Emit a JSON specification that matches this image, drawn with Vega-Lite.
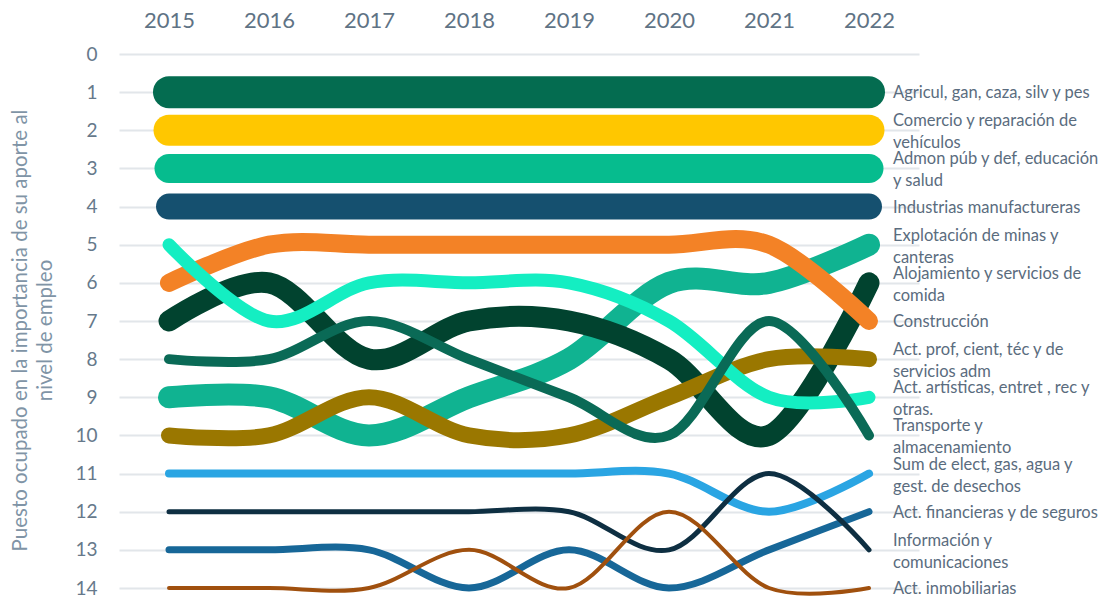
{
  "$schema": "https://vega.github.io/schema/vega-lite/v6.json",
  "width": 800,
  "height": 534,
  "autosize": {"type": "none"},
  "padding": {"left": 119, "top": 54, "right": 182, "bottom": 9},
  "background": "white",
  "config": {"view": {"stroke": null}, "font": "Lato"},
  "datasets": {
    "puestos": [
      {"anio": 2015, "sector": "Agricul, gan, caza, silv y pes", "puesto": 1},
      {"anio": 2016, "sector": "Agricul, gan, caza, silv y pes", "puesto": 1},
      {"anio": 2017, "sector": "Agricul, gan, caza, silv y pes", "puesto": 1},
      {"anio": 2018, "sector": "Agricul, gan, caza, silv y pes", "puesto": 1},
      {"anio": 2019, "sector": "Agricul, gan, caza, silv y pes", "puesto": 1},
      {"anio": 2020, "sector": "Agricul, gan, caza, silv y pes", "puesto": 1},
      {"anio": 2021, "sector": "Agricul, gan, caza, silv y pes", "puesto": 1},
      {"anio": 2022, "sector": "Agricul, gan, caza, silv y pes", "puesto": 1},
      {"anio": 2015, "sector": "Comercio y reparación de\nvehículos", "puesto": 2},
      {"anio": 2016, "sector": "Comercio y reparación de\nvehículos", "puesto": 2},
      {"anio": 2017, "sector": "Comercio y reparación de\nvehículos", "puesto": 2},
      {"anio": 2018, "sector": "Comercio y reparación de\nvehículos", "puesto": 2},
      {"anio": 2019, "sector": "Comercio y reparación de\nvehículos", "puesto": 2},
      {"anio": 2020, "sector": "Comercio y reparación de\nvehículos", "puesto": 2},
      {"anio": 2021, "sector": "Comercio y reparación de\nvehículos", "puesto": 2},
      {"anio": 2022, "sector": "Comercio y reparación de\nvehículos", "puesto": 2},
      {"anio": 2015, "sector": "Admon púb y def, educación\ny salud", "puesto": 3},
      {"anio": 2016, "sector": "Admon púb y def, educación\ny salud", "puesto": 3},
      {"anio": 2017, "sector": "Admon púb y def, educación\ny salud", "puesto": 3},
      {"anio": 2018, "sector": "Admon púb y def, educación\ny salud", "puesto": 3},
      {"anio": 2019, "sector": "Admon púb y def, educación\ny salud", "puesto": 3},
      {"anio": 2020, "sector": "Admon púb y def, educación\ny salud", "puesto": 3},
      {"anio": 2021, "sector": "Admon púb y def, educación\ny salud", "puesto": 3},
      {"anio": 2022, "sector": "Admon púb y def, educación\ny salud", "puesto": 3},
      {"anio": 2015, "sector": "Industrias manufactureras", "puesto": 4},
      {"anio": 2016, "sector": "Industrias manufactureras", "puesto": 4},
      {"anio": 2017, "sector": "Industrias manufactureras", "puesto": 4},
      {"anio": 2018, "sector": "Industrias manufactureras", "puesto": 4},
      {"anio": 2019, "sector": "Industrias manufactureras", "puesto": 4},
      {"anio": 2020, "sector": "Industrias manufactureras", "puesto": 4},
      {"anio": 2021, "sector": "Industrias manufactureras", "puesto": 4},
      {"anio": 2022, "sector": "Industrias manufactureras", "puesto": 4},
      {"anio": 2015, "sector": "Explotación de minas y\ncanteras", "puesto": 9},
      {"anio": 2016, "sector": "Explotación de minas y\ncanteras", "puesto": 9},
      {"anio": 2017, "sector": "Explotación de minas y\ncanteras", "puesto": 10},
      {"anio": 2018, "sector": "Explotación de minas y\ncanteras", "puesto": 9},
      {"anio": 2019, "sector": "Explotación de minas y\ncanteras", "puesto": 8},
      {"anio": 2020, "sector": "Explotación de minas y\ncanteras", "puesto": 6},
      {"anio": 2021, "sector": "Explotación de minas y\ncanteras", "puesto": 6},
      {"anio": 2022, "sector": "Explotación de minas y\ncanteras", "puesto": 5},
      {"anio": 2015, "sector": "Alojamiento y servicios de\ncomida", "puesto": 7},
      {"anio": 2016, "sector": "Alojamiento y servicios de\ncomida", "puesto": 6},
      {"anio": 2017, "sector": "Alojamiento y servicios de\ncomida", "puesto": 8},
      {"anio": 2018, "sector": "Alojamiento y servicios de\ncomida", "puesto": 7},
      {"anio": 2019, "sector": "Alojamiento y servicios de\ncomida", "puesto": 7},
      {"anio": 2020, "sector": "Alojamiento y servicios de\ncomida", "puesto": 8},
      {"anio": 2021, "sector": "Alojamiento y servicios de\ncomida", "puesto": 10},
      {"anio": 2022, "sector": "Alojamiento y servicios de\ncomida", "puesto": 6},
      {"anio": 2015, "sector": "Construcción", "puesto": 6},
      {"anio": 2016, "sector": "Construcción", "puesto": 5},
      {"anio": 2017, "sector": "Construcción", "puesto": 5},
      {"anio": 2018, "sector": "Construcción", "puesto": 5},
      {"anio": 2019, "sector": "Construcción", "puesto": 5},
      {"anio": 2020, "sector": "Construcción", "puesto": 5},
      {"anio": 2021, "sector": "Construcción", "puesto": 5},
      {"anio": 2022, "sector": "Construcción", "puesto": 7},
      {"anio": 2015, "sector": "Act. prof, cient, téc y de\nservicios adm", "puesto": 10},
      {"anio": 2016, "sector": "Act. prof, cient, téc y de\nservicios adm", "puesto": 10},
      {"anio": 2017, "sector": "Act. prof, cient, téc y de\nservicios adm", "puesto": 9},
      {"anio": 2018, "sector": "Act. prof, cient, téc y de\nservicios adm", "puesto": 10},
      {"anio": 2019, "sector": "Act. prof, cient, téc y de\nservicios adm", "puesto": 10},
      {"anio": 2020, "sector": "Act. prof, cient, téc y de\nservicios adm", "puesto": 9},
      {"anio": 2021, "sector": "Act. prof, cient, téc y de\nservicios adm", "puesto": 8},
      {"anio": 2022, "sector": "Act. prof, cient, téc y de\nservicios adm", "puesto": 8},
      {"anio": 2015, "sector": "Act. artísticas, entret , rec y\notras.", "puesto": 5},
      {"anio": 2016, "sector": "Act. artísticas, entret , rec y\notras.", "puesto": 7},
      {"anio": 2017, "sector": "Act. artísticas, entret , rec y\notras.", "puesto": 6},
      {"anio": 2018, "sector": "Act. artísticas, entret , rec y\notras.", "puesto": 6},
      {"anio": 2019, "sector": "Act. artísticas, entret , rec y\notras.", "puesto": 6},
      {"anio": 2020, "sector": "Act. artísticas, entret , rec y\notras.", "puesto": 7},
      {"anio": 2021, "sector": "Act. artísticas, entret , rec y\notras.", "puesto": 9},
      {"anio": 2022, "sector": "Act. artísticas, entret , rec y\notras.", "puesto": 9},
      {"anio": 2015, "sector": "Transporte y\nalmacenamiento", "puesto": 8},
      {"anio": 2016, "sector": "Transporte y\nalmacenamiento", "puesto": 8},
      {"anio": 2017, "sector": "Transporte y\nalmacenamiento", "puesto": 7},
      {"anio": 2018, "sector": "Transporte y\nalmacenamiento", "puesto": 8},
      {"anio": 2019, "sector": "Transporte y\nalmacenamiento", "puesto": 9},
      {"anio": 2020, "sector": "Transporte y\nalmacenamiento", "puesto": 10},
      {"anio": 2021, "sector": "Transporte y\nalmacenamiento", "puesto": 7},
      {"anio": 2022, "sector": "Transporte y\nalmacenamiento", "puesto": 10},
      {"anio": 2015, "sector": "Sum de elect, gas, agua y\ngest. de desechos", "puesto": 11},
      {"anio": 2016, "sector": "Sum de elect, gas, agua y\ngest. de desechos", "puesto": 11},
      {"anio": 2017, "sector": "Sum de elect, gas, agua y\ngest. de desechos", "puesto": 11},
      {"anio": 2018, "sector": "Sum de elect, gas, agua y\ngest. de desechos", "puesto": 11},
      {"anio": 2019, "sector": "Sum de elect, gas, agua y\ngest. de desechos", "puesto": 11},
      {"anio": 2020, "sector": "Sum de elect, gas, agua y\ngest. de desechos", "puesto": 11},
      {"anio": 2021, "sector": "Sum de elect, gas, agua y\ngest. de desechos", "puesto": 12},
      {"anio": 2022, "sector": "Sum de elect, gas, agua y\ngest. de desechos", "puesto": 11},
      {"anio": 2015, "sector": "Act. financieras y de seguros", "puesto": 13},
      {"anio": 2016, "sector": "Act. financieras y de seguros", "puesto": 13},
      {"anio": 2017, "sector": "Act. financieras y de seguros", "puesto": 13},
      {"anio": 2018, "sector": "Act. financieras y de seguros", "puesto": 14},
      {"anio": 2019, "sector": "Act. financieras y de seguros", "puesto": 13},
      {"anio": 2020, "sector": "Act. financieras y de seguros", "puesto": 14},
      {"anio": 2021, "sector": "Act. financieras y de seguros", "puesto": 13},
      {"anio": 2022, "sector": "Act. financieras y de seguros", "puesto": 12},
      {"anio": 2015, "sector": "Información y\ncomunicaciones", "puesto": 12},
      {"anio": 2016, "sector": "Información y\ncomunicaciones", "puesto": 12},
      {"anio": 2017, "sector": "Información y\ncomunicaciones", "puesto": 12},
      {"anio": 2018, "sector": "Información y\ncomunicaciones", "puesto": 12},
      {"anio": 2019, "sector": "Información y\ncomunicaciones", "puesto": 12},
      {"anio": 2020, "sector": "Información y\ncomunicaciones", "puesto": 13},
      {"anio": 2021, "sector": "Información y\ncomunicaciones", "puesto": 11},
      {"anio": 2022, "sector": "Información y\ncomunicaciones", "puesto": 13},
      {"anio": 2015, "sector": "Act. inmobiliarias", "puesto": 14},
      {"anio": 2016, "sector": "Act. inmobiliarias", "puesto": 14},
      {"anio": 2017, "sector": "Act. inmobiliarias", "puesto": 14},
      {"anio": 2018, "sector": "Act. inmobiliarias", "puesto": 13},
      {"anio": 2019, "sector": "Act. inmobiliarias", "puesto": 14},
      {"anio": 2020, "sector": "Act. inmobiliarias", "puesto": 12},
      {"anio": 2021, "sector": "Act. inmobiliarias", "puesto": 14},
      {"anio": 2022, "sector": "Act. inmobiliarias", "puesto": 14}
    ]
  },
  "data": {"name": "puestos"},
  "encoding": {
    "x": {
      "field": "anio", "type": "quantitative",
      "scale": {"domain": [2014.5, 2022.5], "nice": false, "zero": false},
      "axis": {
        "orient": "top", "values": [2015, 2016, 2017, 2018, 2019, 2020, 2021, 2022],
        "format": "d", "title": null, "grid": false, "domain": false, "ticks": false,
        "labelFont": "Lato", "labelFontSize": 22, "labelColor": "#5F7385", "labelPadding": 22
      }
    },
    "y": {
      "field": "puesto", "type": "quantitative",
      "scale": {"domain": [0, 14], "reverse": true, "nice": false, "zero": false},
      "axis": {
        "values": [0, 1, 2, 3, 4, 5, 6, 7, 8, 9, 10, 11, 12, 13, 14],
        "title": ["Puesto ocupado en la importancia de su aporte al", "nivel de empleo"],
        "titleFont": "Lato", "titleFontSize": 20.5, "titleFontWeight": "normal", "titleColor": "#8094A6",
        "titleLineHeight": 25, "titlePadding": 19, "titleY": 276,
        "grid": true, "gridColor": "#E2E6EA", "gridWidth": 2,
        "domain": false, "ticks": false,
        "labelFont": "Lato", "labelFontSize": 19, "labelColor": "#66798B", "labelPadding": 22
      }
    }
  },
  "layer": [
    {
      "mark": {"type": "line", "interpolate": "cardinal", "strokeCap": "round", "strokeJoin": "round"},
      "encoding": {
        "color": {
          "field": "sector", "type": "nominal", "legend": null,
          "scale": {
            "domain": ["Agricul, gan, caza, silv y pes", "Comercio y reparación de\nvehículos", "Admon púb y def, educación\ny salud", "Industrias manufactureras", "Explotación de minas y\ncanteras", "Alojamiento y servicios de\ncomida", "Construcción", "Act. prof, cient, téc y de\nservicios adm", "Act. artísticas, entret , rec y\notras.", "Transporte y\nalmacenamiento", "Sum de elect, gas, agua y\ngest. de desechos", "Act. financieras y de seguros", "Información y\ncomunicaciones", "Act. inmobiliarias"],
            "range": ["#046C50", "#FFC700", "#06BC8E", "#15506F", "#10B391", "#01432F", "#F38226", "#9A7700", "#14EEC2", "#0A6A56", "#2AA5E3", "#176798", "#0E2F42", "#A0500E"]
          }
        },
        "strokeWidth": {
          "field": "sector", "type": "nominal", "legend": null,
          "scale": {
            "type": "ordinal",
            "domain": ["Agricul, gan, caza, silv y pes", "Comercio y reparación de\nvehículos", "Admon púb y def, educación\ny salud", "Industrias manufactureras", "Explotación de minas y\ncanteras", "Alojamiento y servicios de\ncomida", "Construcción", "Act. prof, cient, téc y de\nservicios adm", "Act. artísticas, entret , rec y\notras.", "Transporte y\nalmacenamiento", "Sum de elect, gas, agua y\ngest. de desechos", "Act. financieras y de seguros", "Información y\ncomunicaciones", "Act. inmobiliarias"],
            "range": [32, 31, 29, 26, 22, 21, 18, 16, 13, 10, 8, 7, 5, 4]
          }
        }
      }
    },
    {
      "transform": [{"filter": "datum.anio == 2022 && indexof(datum.sector, '\\n') < 0"}],
      "mark": {"type": "text", "align": "left", "baseline": "middle", "dx": 24, "dy": 1, "font": "Lato", "fontSize": 16.5, "color": "#5A6C7E"},
      "encoding": {"text": {"field": "sector", "type": "nominal"}}
    },
    {
      "transform": [{"filter": "datum.anio == 2022 && indexof(datum.sector, '\\n') >= 0"}],
      "mark": {"type": "text", "align": "left", "baseline": "middle", "dx": 24, "dy": -9, "font": "Lato", "fontSize": 16.5, "color": "#5A6C7E", "lineBreak": "\n", "lineHeight": 22},
      "encoding": {"text": {"field": "sector", "type": "nominal"}}
    }
  ]
}
